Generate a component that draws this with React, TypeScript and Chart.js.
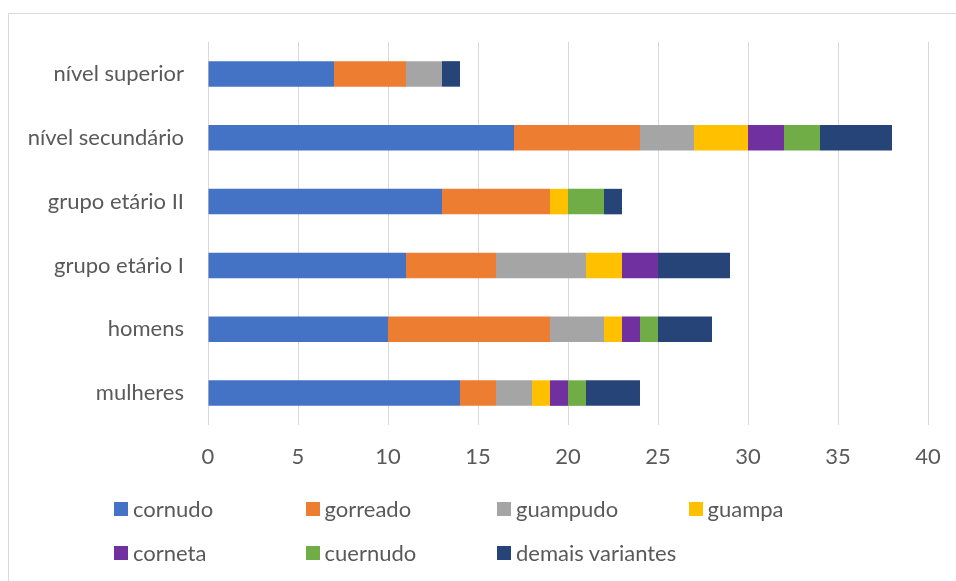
import React, { useEffect, useRef } from "react";
import { Chart, registerables } from "chart.js";

Chart.register(...registerables);

const categories = ["nível superior", "nível secundário", "grupo etário II", "grupo etário I", "homens", "mulheres"];
const seriesNames = ["cornudo", "gorreado", "guampudo", "guampa", "corneta", "cuernudo", "demais variantes"];
const cornudo = [7, 17, 13, 11, 10, 14];
const gorreado = [4, 7, 6, 5, 9, 2];
const guampudo = [2, 3, 0, 5, 3, 2];
const guampa = [0, 3, 1, 2, 1, 1];
const corneta = [0, 2, 0, 2, 1, 1];
const cuernudo = [0, 2, 2, 0, 1, 1];
const demais = [1, 4, 1, 4, 3, 3];
const xTicks = [0, 5, 10, 15, 20, 25, 30, 35, 40];
const colors = ["#4472C4", "#ED7D31", "#A5A5A5", "#FFC000", "#7030A0", "#70AD47", "#264478"];

const FONT = "Lato, 'Open Sans', sans-serif";
const TEXT = "#595959";
const FS = 22;

export default function App() {
  const ref = useRef<HTMLCanvasElement>(null);
  useEffect(() => {
    const values = [cornudo, gorreado, guampudo, guampa, corneta, cuernudo, demais];
    const chart = new Chart(ref.current!, {
      type: "bar",
      data: {
        labels: categories,
        datasets: seriesNames.map((n, i) => ({
          label: n,
          data: values[i],
          backgroundColor: colors[i],
          borderWidth: 0,
          barPercentage: 0.4,
          categoryPercentage: 1,
        })),
      },
      options: {
        indexAxis: "y",
        animation: false,
        responsive: false,
        maintainAspectRatio: false,
        layout: { padding: { left: 0, top: 42, right: 28, bottom: 0 } },
        plugins: { legend: { display: false }, tooltip: { enabled: false } },
        scales: {
          x: {
            stacked: true,
            min: 0,
            max: 40,
            afterBuildTicks: (s: any) => {
              s.ticks = xTicks.map((v) => ({ value: v }));
            },
            afterFit: (s: any) => {
              s.height = 581 - 425;
              s.paddingRight = 0;
              s.paddingLeft = 0;
            },
            grid: { color: "#D9D9D9", lineWidth: 1, drawTicks: false },
            border: { display: false },
            ticks: { color: TEXT, font: { family: FONT, size: FS }, padding: 19 },
          },
          y: {
            stacked: true,
            afterFit: (s: any) => {
              s.width = 208;
              s.paddingTop = 0;
              s.paddingBottom = 0;
            },
            grid: { display: false, drawTicks: false },
            border: { display: false },
            ticks: { color: TEXT, font: { family: FONT, size: FS }, padding: 24 },
          },
        },
      },
    });
    return () => chart.destroy();
  }, []);

  const legendRows = [seriesNames.slice(0, 4), seriesNames.slice(4)];
  return (
    <div style={{ position: "fixed", left: 0, top: 0, width: 956, height: 581, background: "#fff", overflow: "hidden" }}>
      <div
        style={{
          position: "absolute",
          left: 8,
          top: 13,
          width: 960,
          height: 600,
          border: "1px solid #D9D9D9",
          boxSizing: "border-box",
        }}
      />
      <canvas ref={ref} width={956} height={581} style={{ position: "absolute", left: 0, top: 0, width: 956, height: 581 }} />
      {legendRows.map((row, r) => (
        <div key={r} style={{ position: "absolute", left: 114, top: 496 + r * 44, height: 26 }}>
          {row.map((name, c) => {
            const idx = r * 4 + c;
            return (
              <div
                key={name}
                style={{
                  position: "absolute",
                  left: c * 191.5,
                  top: 0,
                  display: "flex",
                  alignItems: "center",
                  whiteSpace: "nowrap",
                  height: 26,
                }}
              >
                <span style={{ display: "inline-block", width: 14, height: 14, background: colors[idx], marginRight: 5 }} />
                <span style={{ fontFamily: FONT, fontSize: FS, color: TEXT, lineHeight: "26px" }}>{name}</span>
              </div>
            );
          })}
        </div>
      ))}
    </div>
  );
}
